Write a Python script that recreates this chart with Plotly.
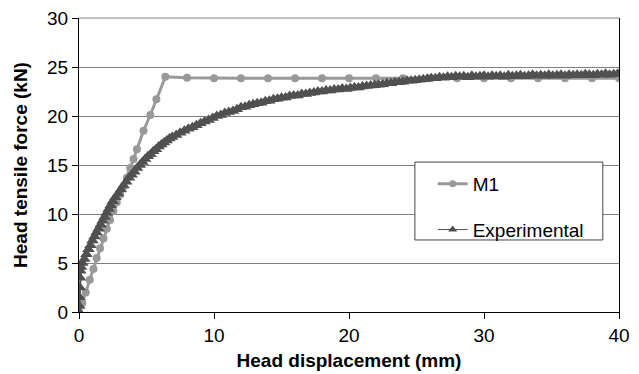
import plotly.graph_objects as go

# M1 model series
m1_x = [0, 0.25, 0.5, 0.8, 1.07, 1.31, 1.56, 1.81, 2.06, 2.3, 2.55, 2.8, 3.05, 3.3, 3.55,
        3.79, 4.04, 4.29, 4.78, 5.28, 5.73, 6.4, 8, 10, 12, 14, 16, 18, 20, 22, 24, 26,
        28, 30, 32, 34, 36, 38, 40]
m1_y = [0, 0.9, 2.0, 3.3, 4.4, 5.5, 6.5, 7.5, 8.5, 9.4, 10.3, 11.2, 12.0, 12.8, 13.7,
        14.7, 15.6, 16.6, 18.5, 20.1, 21.7, 24.0, 23.9, 23.85, 23.85, 23.85, 23.85, 23.85,
        23.85, 23.85, 23.85, 23.85, 23.85, 23.85, 23.85, 23.85, 23.85, 23.85, 23.85]

# Experimental series
exp_x = [0, 0.02, 0.04, 0.06, 0.08, 0.1, 0.15, 0.25, 0.4, 0.55,
         0.7, 0.85, 1.0, 1.15, 1.3, 1.45, 1.6, 1.75, 1.9, 2.05,
         2.2, 2.35, 2.5, 2.7, 2.9, 3.1, 3.3, 3.5, 3.7, 3.9,
         4.1, 4.3, 4.5, 4.7, 4.9, 5.1, 5.3, 5.5, 5.7, 5.9,
         6.1, 6.3, 6.5, 6.7, 6.9, 7.2, 7.5, 7.8, 8.1, 8.4,
         8.7, 9.0, 9.3, 9.6, 9.9,
         10.2, 10.5, 10.8, 11.1, 11.4, 11.7, 12.0, 12.3, 12.6, 12.9,
         13.2, 13.5, 13.8, 14.1, 14.4, 14.7, 15.0, 15.3, 15.6, 15.9,
         16.2, 16.5, 16.8, 17.1, 17.4, 17.7, 18.0, 18.3, 18.6, 18.9,
         19.2, 19.5, 19.8, 20.1, 20.4, 20.7, 21.0, 21.3, 21.6, 21.9,
         22.2, 22.5, 22.8, 23.1, 23.4, 23.7, 24.0, 24.3, 24.6, 24.9,
         25.2, 25.5, 25.8, 26.1, 26.4, 26.7, 27.0, 27.3, 27.6, 27.9,
         28.2, 28.5, 28.8, 29.1, 29.4, 29.7, 30.0, 30.3, 30.6, 30.9,
         31.2, 31.5, 31.8, 32.1, 32.4, 32.7, 33.0, 33.3, 33.6, 33.9,
         34.2, 34.5, 34.8, 35.1, 35.4, 35.7, 36.0, 36.3, 36.6, 36.9,
         37.2, 37.5, 37.8, 38.1, 38.4, 38.7, 39.0, 39.3, 39.6, 39.9]
exp_y = [0, 0.6, 1.5, 2.5, 3.5, 4.2, 4.6, 5.0, 5.4, 5.9,
         6.4, 6.8, 7.3, 7.7, 8.1, 8.5, 8.9, 9.3, 9.7, 10.1,
         10.5, 10.9, 11.3, 11.7, 12.1, 12.5, 12.9, 13.3, 13.7, 14.0,
         14.3, 14.7, 15.0, 15.3, 15.6, 15.9, 16.1, 16.4, 16.6, 16.9,
         17.1, 17.3, 17.5, 17.7, 17.85, 18.05, 18.3, 18.5, 18.7, 18.85,
         19.05, 19.25, 19.45, 19.6, 19.8,
         20.0, 20.1, 20.3, 20.4, 20.5, 20.7, 20.9, 20.95, 21.1, 21.2,
         21.3, 21.35, 21.5, 21.55, 21.7, 21.75, 21.85, 21.9, 22.05, 22.1,
         22.1, 22.25, 22.25, 22.35, 22.4, 22.5, 22.5, 22.6, 22.6, 22.7,
         22.7, 22.8, 22.75, 22.85, 22.9, 22.9, 23.0, 23.05, 23.1, 23.15,
         23.2, 23.25, 23.35, 23.35, 23.45, 23.45, 23.5, 23.6, 23.6, 23.65,
         23.7, 23.75, 23.8, 23.85, 23.85, 23.95, 23.9, 24.0, 23.95, 24.05,
         24.0, 24.05, 23.95, 24.1, 24.0, 24.05, 24.1, 24.0, 24.1, 24.05,
         24.1, 24.0, 24.15, 24.05, 24.1, 24.15, 24.05, 24.1, 24.2, 24.1,
         24.15, 24.1, 24.2, 24.1, 24.15, 24.2, 24.1, 24.2, 24.15, 24.2,
         24.15, 24.25, 24.2, 24.15, 24.25, 24.2, 24.3, 24.2, 24.25, 24.3]

x_ticks = [0, 10, 20, 30, 40]
y_ticks = [0, 5, 10, 15, 20, 25, 30]

FONT = "Liberation Sans, Arial, sans-serif"
M1_COLOR = "#999999"
EXP_COLOR = "#505050"

fig = go.Figure()
fig.add_trace(go.Scatter(
    x=m1_x, y=m1_y, mode="lines+markers", name="M1", showlegend=False,
    line=dict(color=M1_COLOR, width=3),
    marker=dict(symbol="circle", size=8, color=M1_COLOR),
))
fig.add_trace(go.Scatter(
    x=exp_x, y=exp_y, mode="lines+markers", name="Experimental", showlegend=False,
    line=dict(color=EXP_COLOR, width=2),
    marker=dict(symbol="triangle-up", size=11, color=EXP_COLOR),
))
# legend-only entries with the legend's own sample styling
fig.add_trace(go.Scatter(
    x=[None], y=[None], mode="lines+markers", name="M1", legendgroup="a",
    line=dict(color=M1_COLOR, width=3),
    marker=dict(symbol="circle", size=7, color=M1_COLOR),
))
fig.add_trace(go.Scatter(
    x=[None], y=[None], mode="lines+markers", name="Experimental", legendgroup="b",
    line=dict(color=EXP_COLOR, width=1),
    marker=dict(symbol="triangle-up", size=8, color=EXP_COLOR),
))

fig.update_layout(
    width=631, height=366,
    margin=dict(l=71, r=20, t=10, b=62),
    paper_bgcolor="white", plot_bgcolor="white",
    font=dict(family=FONT, size=19, color="black"),
    showlegend=True,
    legend=dict(
        x=0.655, y=0.50, xanchor="left", yanchor="top",
        bgcolor="rgba(0,0,0,0)", borderwidth=0,
        font=dict(family=FONT, size=19, color="black"),
        tracegroupgap=18,
    ),
    shapes=[
        dict(type="line", xref="paper", yref="paper", x0=0, x1=1, y0=1, y1=1,
             line=dict(color="#808080", width=1), layer="below"),
        dict(type="rect", xref="paper", yref="paper",
             x0=0.622, x1=0.970, y0=0.245, y1=0.51,
             line=dict(color="#444444", width=1), fillcolor="white", layer="above"),
    ],
)
fig.update_xaxes(
    range=[0, 40], tickvals=x_ticks, ticks="outside", ticklen=6, tickcolor="black",
    showline=True, linecolor="black", linewidth=1, showgrid=False, zeroline=False,
    tickfont=dict(size=19), automargin=False, ticklabeloverflow="allow",
    title=dict(text="<b>Head displacement (mm)</b>", font=dict(size=19), standoff=8),
)
fig.update_yaxes(
    range=[0, 30], tickvals=y_ticks, ticks="outside", ticklen=6, tickcolor="black",
    showline=True, linecolor="black", linewidth=1, mirror=True,
    showgrid=True, gridcolor="#808080", gridwidth=1, zeroline=False,
    tickfont=dict(size=19), automargin=False, ticklabeloverflow="allow",
    title=dict(text="<b>Head tensile force (kN)</b>", font=dict(size=19), standoff=14),
)

fig.write_html("out.html")
